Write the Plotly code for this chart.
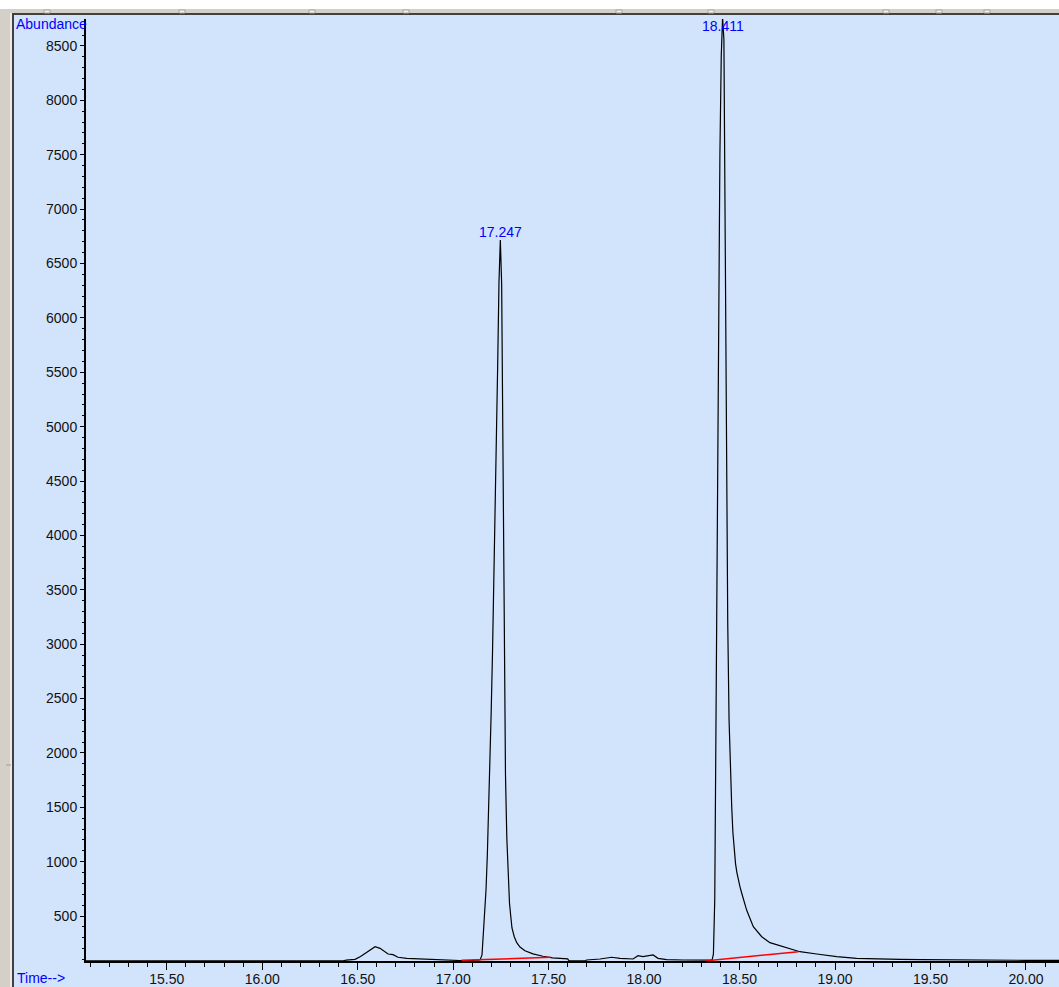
import plotly.graph_objects as go

# Total ion chromatogram: retention time (min) vs abundance
times = [
    15.077, 16.000, 16.350, 16.424, 16.440, 16.486, 16.515, 16.538, 16.565, 16.591,
    16.617, 16.640, 16.659, 16.685, 16.711, 16.757, 16.800, 16.842, 16.890, 16.931,
    16.980, 17.036, 17.100, 17.141,
    17.151, 17.158, 17.165, 17.172, 17.179, 17.186, 17.192, 17.199, 17.206, 17.213,
    17.220, 17.226, 17.233, 17.240, 17.247, 17.254, 17.261, 17.267, 17.274, 17.281,
    17.288, 17.295, 17.301, 17.308, 17.320, 17.333, 17.350, 17.376, 17.418, 17.470,
    17.520, 17.560, 17.600, 17.607, 17.690, 17.699, 17.769, 17.830, 17.874, 17.942,
    17.968, 17.994, 18.020, 18.047, 18.073, 18.118, 18.203, 18.260, 18.300, 18.329,
    18.356, 18.363, 18.370, 18.377, 18.384, 18.390, 18.397, 18.404, 18.411, 18.418,
    18.425, 18.431, 18.438, 18.445, 18.452, 18.459, 18.465, 18.472, 18.479, 18.486,
    18.493, 18.502, 18.511, 18.537, 18.572, 18.616, 18.659, 18.729, 18.816, 18.904,
    19.009, 19.113, 19.200, 19.340, 19.450, 19.602, 19.800, 20.000, 20.173,
]
abundance = [
    87, 87, 87, 88, 95, 102, 128, 157, 190, 218,
    203, 175, 151, 145, 121, 111, 108, 105, 100, 96,
    94, 91, 92, 96,
    142, 310, 494, 739, 1061, 1459, 1889, 2367, 2919, 3519,
    4114, 4760, 5551, 6333, 6716, 6310, 4702, 2839, 1797, 1218,
    862, 620, 510, 390, 310, 255, 215, 180, 152, 130,
    116, 110, 106, 87, 87, 96, 105, 121, 111, 105,
    135, 126, 135, 142, 111, 99, 96, 95, 92, 90,
    95, 150, 650, 2400, 4300, 6000, 7500, 8400, 8760, 8560,
    6600, 4600, 3200, 2300, 1800, 1500, 1270, 1100, 980, 900,
    831, 770, 712, 555, 402, 310, 255, 218, 172, 151,
    126, 111, 106, 102, 99, 96, 94, 93, 92,
]

# Integrated peaks: apex retention times and integration baselines
peak_times = [17.247, 18.411]
peak_labels = ["17.247", "18.411"]
baseline_times = [[17.044, 17.511], [18.319, 18.808]]
baseline_values = [[93, 120], [87, 172]]

x_range = [15.077, 20.173]
y_range = [86.6, 8748]

W, H = 1059, 987
ML, MR, MT, MB = 86, 0, 19, 26
PW, PH = W - ML - MR, H - MT - MB

BG = "#D2E3FC"
FRAME_GRAY = "#D4D0C8"
BLUE = "#0000FF"
FONT = "Liberation Sans, Arial, sans-serif"
FS = 14


def px(xp):
    return (xp - ML) / PW


def py(yp):
    return (H - MB - yp) / PH


fig = go.Figure()

fig.add_trace(go.Scatter(
    x=times, y=abundance, mode="lines",
    line=dict(color="#000000", width=1.2),
    hoverinfo="skip", showlegend=False,
))

for bt, bv in zip(baseline_times, baseline_values):
    fig.add_trace(go.Scatter(
        x=bt, y=bv, mode="lines",
        line=dict(color="#FF0000", width=1.5),
        hoverinfo="skip", showlegend=False,
    ))

annotations = []
peak_heights = [abundance[times.index(t)] for t in peak_times]
for t, lab, h in zip(peak_times, peak_labels, peak_heights):
    if h < y_range[1] - 400:
        annotations.append(dict(
            x=t, y=h, xref="x", yref="y", text=lab, showarrow=False,
            xanchor="center", yanchor="bottom", yshift=-2,
            font=dict(family=FONT, size=FS, color=BLUE),
        ))
    else:
        # labels of peaks reaching the top of the window are pinned below the frame
        annotations.append(dict(
            x=t, y=py(26), xref="x", yref="paper", text=lab, showarrow=False,
            xanchor="center", yanchor="middle",
            font=dict(family=FONT, size=FS, color=BLUE),
        ))

annotations.append(dict(
    x=px(14), y=py(24), xref="paper", yref="paper", text="Abundance",
    showarrow=False, xanchor="left", yanchor="middle",
    font=dict(family=FONT, size=FS, color=BLUE),
))
annotations.append(dict(
    x=px(15), y=py(978), xref="paper", yref="paper", text="Time-->",
    showarrow=False, xanchor="left", yanchor="middle",
    font=dict(family=FONT, size=FS, color=BLUE),
))

# window frame around the chart area
shapes = [
    dict(type="rect", xref="paper", yref="paper", x0=px(0), x1=px(W), y0=py(9), y1=py(0),
         fillcolor="#FFFFFF", line=dict(width=0), layer="above"),
    dict(type="rect", xref="paper", yref="paper", x0=px(0), x1=px(W), y0=py(13), y1=py(9),
         fillcolor=FRAME_GRAY, line=dict(width=0), layer="above"),
    dict(type="rect", xref="paper", yref="paper", x0=px(0), x1=px(W), y0=py(15), y1=py(13),
         fillcolor="#404040", line=dict(width=0), layer="above"),
    dict(type="rect", xref="paper", yref="paper", x0=px(0), x1=px(10), y0=py(H), y1=py(9),
         fillcolor=FRAME_GRAY, line=dict(width=0), layer="above"),
    dict(type="rect", xref="paper", yref="paper", x0=px(10), x1=px(12), y0=py(H), y1=py(13),
         fillcolor="#ECE9E4", line=dict(width=0), layer="above"),
    dict(type="rect", xref="paper", yref="paper", x0=px(12), x1=px(14), y0=py(H), y1=py(13),
         fillcolor="#404040", line=dict(width=0), layer="above"),
    dict(type="line", xref="paper", yref="paper", x0=px(6), x1=px(11), y0=py(765), y1=py(765),
         line=dict(color="#A09C94", width=1), layer="above"),
]
for mx in [47, 182, 312, 406, 619, 711, 886, 939, 987]:
    shapes.append(dict(type="rect", xref="paper", yref="paper",
                       x0=px(mx - 3), x1=px(mx + 3), y0=py(13), y1=py(10),
                       fillcolor="#F4F2EE", line=dict(color="#A8A49C", width=1), layer="above"))

fig.update_layout(
    width=W, height=H,
    margin=dict(l=ML, r=MR, t=MT, b=MB, pad=0, autoexpand=False),
    paper_bgcolor=BG, plot_bgcolor=BG,
    showlegend=False,
    annotations=annotations,
    shapes=shapes,
    xaxis=dict(
        range=x_range, showgrid=False, zeroline=False, automargin=False,
        showline=True, linecolor="#000000", linewidth=2,
        ticks="outside", ticklen=7, tickwidth=1, tickcolor="#000000",
        tick0=15.5, dtick=0.5, tickformat=".2f", ticklabelstandoff=-3,
        minor=dict(ticks="outside", ticklen=4, tickwidth=1, tickcolor="#000000",
                   tick0=15.0, dtick=0.1, showgrid=False),
        tickfont=dict(family=FONT, size=FS, color="#111111"),
        fixedrange=True,
    ),
    yaxis=dict(
        range=y_range, showgrid=False, zeroline=False, automargin=False,
        showline=True, linecolor="#000000", linewidth=2,
        ticks="outside", ticklen=4, tickwidth=1, tickcolor="#000000",
        tickmode="array", tickvals=list(range(500, 9000, 500)),
        ticktext=[str(v) for v in range(500, 9000, 500)],
        minor=dict(ticks="outside", ticklen=2, tickwidth=1, tickcolor="#000000",
                   tick0=0, dtick=100, showgrid=False),
        tickfont=dict(family=FONT, size=FS, color="#111111"),
        fixedrange=True,
    ),
)

fig.write_html("out.html", config={"displayModeBar": False})
